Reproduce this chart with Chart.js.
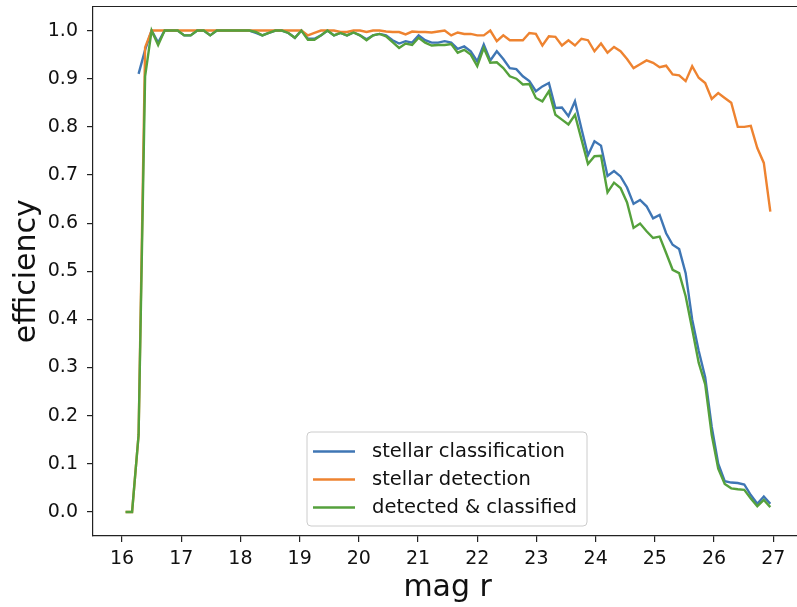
<!DOCTYPE html>
<html>
<head>
<meta charset="utf-8">
<script src="https://cdn.jsdelivr.net/npm/chart.js@4.4.1/dist/chart.umd.min.js"></script>
<style>
  html, body { margin: 0; padding: 0; overflow: hidden; background: #fff; }
  #wrap { width: 810px; height: 607px; }
</style>
</head>
<body>
<div id="wrap"><canvas id="chart" width="810" height="607"></canvas></div>
<script>
// magnitude bins (r)
var mag_r = [
    16.06, 16.17, 16.28, 16.39, 16.50, 16.61, 16.72, 16.83, 16.94, 17.05,
    17.16, 17.27, 17.38, 17.49, 17.60, 17.71, 17.82, 17.93, 18.04, 18.15,
    18.26, 18.37, 18.48, 18.59, 18.70, 18.81, 18.92, 19.03, 19.14, 19.25,
    19.36, 19.47, 19.58, 19.69, 19.80, 19.91, 20.02, 20.13, 20.24, 20.35,
    20.46, 20.57, 20.68, 20.79, 20.90, 21.01, 21.12, 21.23, 21.34, 21.45,
    21.56, 21.67, 21.78, 21.89, 22.00, 22.11, 22.22, 22.33, 22.44, 22.55,
    22.66, 22.77, 22.88, 22.99, 23.10, 23.21, 23.32, 23.43, 23.54, 23.65,
    23.76, 23.87, 23.98, 24.09, 24.20, 24.31, 24.42, 24.53, 24.64, 24.75,
    24.86, 24.97, 25.08, 25.19, 25.30, 25.41, 25.52, 25.63, 25.74, 25.85,
    25.96, 26.07, 26.18, 26.29, 26.40, 26.51, 26.62, 26.73, 26.84, 26.95
];

var stellar_classification = [
    null, null, 0.91, 0.96, 1.0, 0.975, 1.0, 1.0, 1.0, 0.99,
    0.99, 1.0, 1.0, 0.99, 1.0, 1.0, 1.0, 1.0, 1.0, 1.0,
    0.995, 0.99, 0.995, 1.0, 1.0, 0.995, 0.985, 1.0, 0.983, 0.983,
    0.99, 1.0, 0.99, 0.995, 0.99, 0.996, 0.99, 0.982, 0.99, 0.993,
    0.99, 0.98, 0.973, 0.978, 0.975, 0.99, 0.98, 0.975, 0.975, 0.978,
    0.975, 0.962, 0.967, 0.957, 0.936, 0.971, 0.938, 0.957, 0.941, 0.922,
    0.92, 0.905, 0.895, 0.874, 0.884, 0.891, 0.839, 0.84, 0.822, 0.853,
    0.796, 0.741, 0.77, 0.761, 0.698, 0.708, 0.697, 0.674, 0.64, 0.648,
    0.635, 0.61, 0.617, 0.579, 0.555, 0.546, 0.496, 0.40, 0.335, 0.28,
    0.177, 0.10, 0.064, 0.061, 0.06, 0.057, 0.035, 0.017, 0.032, 0.017
];

var stellar_detection = [
    0, 0, 0.16, 0.965, 1.0, 1.0, 1.0, 1.0, 1.0, 1.0,
    1.0, 1.0, 1.0, 1.0, 1.0, 1.0, 1.0, 1.0, 1.0, 1.0,
    1.0, 1.0, 1.0, 1.0, 1.0, 1.0, 1.0, 1.0, 0.99, 0.995,
    1.0, 1.0, 1.0, 0.997, 0.997, 1.0, 1.0, 0.997, 1.0, 1.0,
    0.998, 0.997, 0.997, 0.992, 0.998, 0.997, 0.997, 0.996, 0.998, 1.0,
    0.99, 0.996, 0.993, 0.993, 0.99, 0.99, 1.0, 0.978, 0.99, 0.98,
    0.98, 0.98, 0.995, 0.993, 0.969, 0.988, 0.987, 0.969, 0.98, 0.969,
    0.983, 0.98, 0.957, 0.973, 0.954, 0.966, 0.957, 0.941, 0.922, 0.93,
    0.938, 0.933, 0.924, 0.927, 0.909, 0.907, 0.895, 0.926, 0.902, 0.891,
    0.858, 0.870, 0.86, 0.85, 0.80, 0.80, 0.802, 0.756, 0.725, 0.624
];

var detected_classified = [
    0, 0, 0.16, 0.905, 1.0, 0.97, 1.0, 1.0, 1.0, 0.99,
    0.99, 1.0, 1.0, 0.99, 1.0, 1.0, 1.0, 1.0, 1.0, 1.0,
    0.997, 0.99, 0.995, 1.0, 1.0, 0.995, 0.985, 1.0, 0.981, 0.981,
    0.99, 1.0, 0.99, 0.995, 0.99, 0.996, 0.99, 0.98, 0.99, 0.993,
    0.988, 0.976, 0.964, 0.973, 0.97, 0.985, 0.975, 0.969, 0.97, 0.97,
    0.972, 0.954, 0.96, 0.95, 0.926, 0.964, 0.933, 0.934, 0.922, 0.905,
    0.90, 0.888, 0.889, 0.86, 0.853, 0.874, 0.825, 0.815, 0.805, 0.825,
    0.774, 0.723, 0.739, 0.74, 0.664, 0.684, 0.673, 0.643, 0.59, 0.599,
    0.583, 0.569, 0.572, 0.538, 0.503, 0.496, 0.448, 0.38, 0.31, 0.265,
    0.16, 0.09, 0.058, 0.049, 0.047, 0.046, 0.028, 0.012, 0.025, 0.01
];

var x_ticks = [16, 17, 18, 19, 20, 21, 22, 23, 24, 25, 26, 27];
var y_ticks = [0.0, 0.1, 0.2, 0.3, 0.4, 0.5, 0.6, 0.7, 0.8, 0.9, 1.0];

var series_labels = ["stellar classification", "stellar detection", "detected & classified"];
var series_colors = ["#3f76b4", "#ee8330", "#55a13c"];

function toPoints(values) {
    return mag_r.map(function(m, i) { return { x: m, y: values[i] }; });
}

var axisColor = "#222222";
var textColor = "#111111";
var fontFamily = "'DejaVu Sans', sans-serif";

// top/right spines + legend box like matplotlib
var framePlugin = {
    id: "frame",
    afterDraw: function(chart) {
        var ctx = chart.ctx;
        var a = chart.chartArea;
        ctx.save();
        ctx.strokeStyle = axisColor;
        ctx.lineWidth = 1.2;
        ctx.beginPath();
        ctx.moveTo(a.left, a.top);
        ctx.lineTo(a.right, a.top);
        ctx.lineTo(a.right, a.bottom);
        ctx.stroke();

        // legend
        var bx = a.left + 214, by = a.bottom - 104, bw = 280, bh = 94, r = 4;
        ctx.beginPath();
        ctx.moveTo(bx + r, by);
        ctx.arcTo(bx + bw, by, bx + bw, by + bh, r);
        ctx.arcTo(bx + bw, by + bh, bx, by + bh, r);
        ctx.arcTo(bx, by + bh, bx, by, r);
        ctx.arcTo(bx, by, bx + bw, by, r);
        ctx.closePath();
        ctx.fillStyle = "rgba(255,255,255,0.8)";
        ctx.fill();
        ctx.strokeStyle = "#cccccc";
        ctx.lineWidth = 1;
        ctx.stroke();

        ctx.font = "19.5px " + fontFamily;
        ctx.textBaseline = "middle";
        ctx.textAlign = "left";
        chart.data.datasets.forEach(function(ds, i) {
            var ry = by + 19.5 + i * 28;
            ctx.strokeStyle = ds.borderColor;
            ctx.lineWidth = 2.4;
            ctx.beginPath();
            ctx.moveTo(bx + 6, ry);
            ctx.lineTo(bx + 48, ry);
            ctx.stroke();
            ctx.fillStyle = textColor;
            ctx.fillText(ds.label, bx + 65, ry);
        });
        ctx.restore();
    }
};

var ctx = document.getElementById("chart").getContext("2d");
var myChart = new Chart(ctx, {
    type: "line",
    data: {
        datasets: [{
            label: series_labels[0],
            data: toPoints(stellar_classification),
            borderColor: series_colors[0],
            order: 3,
        }, {
            label: series_labels[1],
            data: toPoints(stellar_detection),
            borderColor: series_colors[1],
            order: 2,
        }, {
            label: series_labels[2],
            data: toPoints(detected_classified),
            borderColor: series_colors[2],
            order: 1,
        }],
    },
    options: {
        responsive: false,
        animation: false,
        devicePixelRatio: 1,
        layout: { padding: { top: 6.5, right: 7.7, left: 0, bottom: 0 } },
        elements: {
            point: { radius: 0 },
            line: { borderWidth: 2.4, tension: 0, fill: false },
        },
        plugins: {
            legend: { display: false },
            tooltip: { enabled: false },
        },
        scales: {
            x: {
                type: "linear",
                min: 15.51,
                max: 27.49,
                afterBuildTicks: function(s) {
                    s.ticks = x_ticks.map(function(v) { return { value: v }; });
                },
                afterFit: function(s) {
                    s.height = 71;
                    s.paddingLeft = 0;
                    s.paddingRight = 0;
                },
                border: { display: true, color: axisColor, width: 1.2 },
                grid: { display: true, drawOnChartArea: false, drawTicks: true, tickLength: 6, color: axisColor, lineWidth: 1.2 },
                ticks: {
                    color: textColor,
                    padding: 6,
                    maxRotation: 0,
                    font: { family: fontFamily, size: 19 },
                    callback: function(v) { return String(v); },
                },
                title: {
                    display: true,
                    text: "mag r",
                    color: textColor,
                    padding: { top: 0, bottom: 1 },
                    font: { family: fontFamily, size: 30 },
                },
            },
            y: {
                min: -0.05,
                max: 1.05,
                afterBuildTicks: function(s) {
                    s.ticks = y_ticks.map(function(v) { return { value: v }; });
                },
                afterFit: function(s) {
                    s.width = 93;
                    s.paddingTop = 0;
                    s.paddingBottom = 0;
                },
                border: { display: true, color: axisColor, width: 1.2 },
                grid: { display: true, drawOnChartArea: false, drawTicks: true, tickLength: 6, color: axisColor, lineWidth: 1.2 },
                ticks: {
                    color: textColor,
                    padding: 9,
                    font: { family: fontFamily, size: 19 },
                    callback: function(v) { return v.toFixed(1); },
                },
                title: {
                    display: true,
                    text: "efficiency",
                    color: textColor,
                    padding: { top: 9, bottom: 0 },
                    font: { family: fontFamily, size: 30 },
                },
            },
        },
    },
    plugins: [framePlugin],
});
</script>
</body>
</html>
